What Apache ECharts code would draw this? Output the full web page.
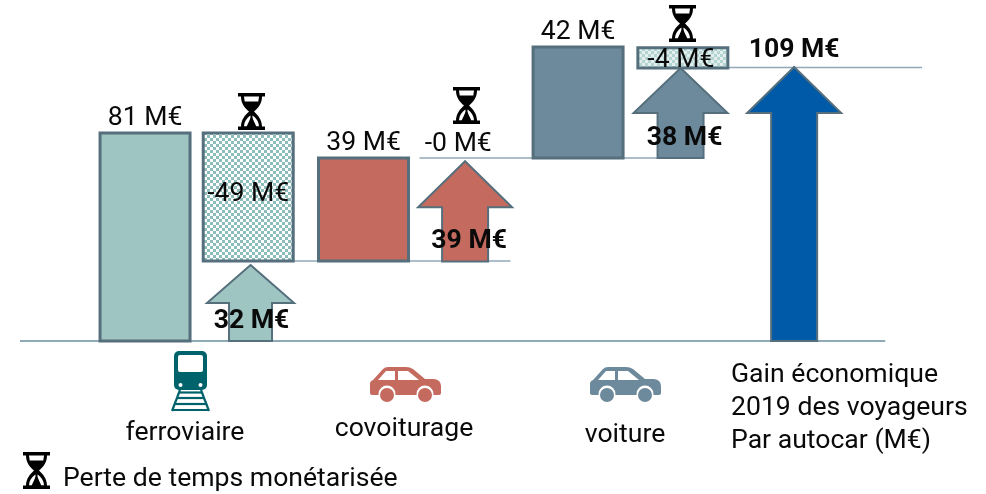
<!DOCTYPE html>
<html lang="fr">

<head>
  <meta charset="utf-8" />
  <title>Gain économique 2019</title>
  <style>
    html, body { margin: 0; background: #fff; }
    #main { width: 986px; height: 494px; }
  </style>
</head>

<body>
  <div id="main"></div>
  <script src="https://cdn.jsdelivr.net/npm/echarts@6/dist/echarts.min.js"></script>
  <script>
    // values, M€
    let barCols = [0, 2, 4];
    let barBase = [0, 31.2, 71.3];
    let barTop = [81, 71.3, 114.5];
    let barLabels = ["81 M€", "39 M€", "42 M€"];

    let lossCols = [1, 3, 5];
    let lossFrom = [81, 71.3, 114.2];
    let lossTo = [31.2, 71.3, 106.3];
    let lossLabels = ["-49 M€", "-0 M€", "-4 M€"];

    let arrowCols = [1, 3, 5, 6];
    let arrowBase = [0, 31, 71.3, 0];
    let arrowTip = [29.6, 70, 106.3, 106.7];
    let arrowLabels = ["32 M€", "39 M€", "38 M€", "109 M€"];

    // level, from column, to column
    let connectorLevel = [0, 31.2, 71.3, 106.5];
    let connectorFrom = [-1.14, 1.38, 2.55, 5.4];
    let connectorTo = [6.85, 3.39, 4.77, 7.19];

    let modeNames = ["ferroviaire", "covoiturage", "voiture"];
    let gainLines = ["Gain économique", "2019 des voyageurs", "Par autocar (M€)"];
    let legendText = "Perte de temps monétarisée";

    // layout and colours
    const font = "Roboto";
    const fontSize = 26.6;
    const textColor = "#0a0a0a";
    const edge = "#566f7c";
    const colNudge = [1.6, -3.5, 3.5, -3, 1.5, -2, 1];
    const arrowNudge = [-1.2, -3.2, -4.3, 1];
    const arrowLabelShift = [1, 4, 4, 0];
    const barColors = ["#9fc5c3", "#c56a5f", "#6d8a9c"];
    const arrowColors = ["#9fc5c3", "#c56a5f", "#6d8a9c", "#005aa7"];
    const lossLabelShift = [[0, -3], [-7, 2], [-2, 2]];
    const trainColor = "#00626a";

    function checker(on, off, size) {
      let c = document.createElement("canvas");
      c.width = size * 2;
      c.height = size * 2;
      let g = c.getContext("2d");
      g.fillStyle = off;
      g.fillRect(0, 0, size * 2, size * 2);
      g.fillStyle = on;
      g.fillRect(0, 0, size, size);
      g.fillRect(size, size, size, size);
      return { image: c, repeat: "repeat" };
    }
    const hatch = checker("#8dbdbb", "#fff", 3);
    const hatchPale = checker("#b4d4d2", "#e3efee", 3);

    function labelEl(text, x, y, bold) {
      return {
        type: "text",
        z2: 20,
        style: {
          text: text,
          x: x,
          y: y,
          align: "center",
          verticalAlign: "middle",
          fill: textColor,
          font: (bold ? "bold " : "") + fontSize + "px " + font,
        },
      };
    }

    function renderConnector(params, api) {
      let a = api.coord([api.value(1), api.value(0)]);
      let b = api.coord([api.value(2), api.value(0)]);
      return {
        type: "line",
        shape: { x1: a[0], y1: a[1], x2: b[0], y2: b[1] },
        style: { stroke: "#8fa9b7", lineWidth: params.dataIndex === 0 ? 2 : 1.5 },
      };
    }

    function renderBar(params, api) {
      let i = params.dataIndex;
      let base = api.coord([api.value(0), api.value(1)]);
      let top = api.coord([api.value(0), api.value(2)]);
      let cx = base[0] + colNudge[api.value(0)];
      return {
        type: "group",
        children: [
          {
            type: "rect",
            shape: { x: cx - 45, y: top[1], width: 90, height: base[1] - top[1] },
            style: { fill: barColors[i], stroke: edge, lineWidth: 3 },
          },
          labelEl(barLabels[i], cx, top[1] - 15),
        ],
      };
    }

    function renderLoss(params, api) {
      let i = params.dataIndex;
      let from = api.coord([api.value(0), api.value(1)]);
      let to = api.coord([api.value(0), api.value(2)]);
      let cx = from[0] + colNudge[api.value(0)];
      let h = to[1] - from[1];
      let shift = lossLabelShift[i];
      let children = [];
      if (h > 0) {
        children.push({
          type: "rect",
          shape: { x: cx - 45, y: from[1], width: 90, height: h },
          style: { fill: h > 40 ? hatch : hatchPale, stroke: edge, lineWidth: 3 },
        });
      }
      let ly = h > 0 ? from[1] + h / 2 : from[1] - 16;
      children.push(labelEl(lossLabels[i], cx + shift[0], ly + shift[1]));
      return { type: "group", children: children };
    }

    function renderArrow(params, api) {
      let i = params.dataIndex;
      let base = api.coord([api.value(0), api.value(1)]);
      let tip = api.coord([api.value(0), api.value(2)]);
      let cx = base[0] + arrowNudge[i];
      let h = base[1] - tip[1];
      let headH = Math.min(46, h / 2);
      let headW = headH < 40 ? 43.5 : 47;
      let shaftW = headH < 40 ? 21.5 : 23;
      let ly = i === 3 ? tip[1] - 17 : base[1] - 20;
      return {
        type: "group",
        children: [
          {
            type: "polygon",
            shape: {
              points: [
                [cx, tip[1]],
                [cx + headW, tip[1] + headH],
                [cx + shaftW, tip[1] + headH],
                [cx + shaftW, base[1]],
                [cx - shaftW, base[1]],
                [cx - shaftW, tip[1] + headH],
                [cx - headW, tip[1] + headH],
              ],
            },
            style: { fill: arrowColors[i], stroke: edge, lineWidth: 2, lineJoin: "miter" },
          },
          labelEl(arrowLabels[i], cx + arrowLabelShift[i], ly, true),
        ],
      };
    }

    function hourglass(x, y) {
      return {
        type: "group",
        x: x,
        y: y,
        children: [
          {
            type: "path",
            shape: {
              pathData: "M0 0H27V3.5H24C24 11 20 15 16 18.5C20 22 24 27 24 33.5H27V37H0V33.5H3C3 27 7 22 11 18.5C7 15 3 11 3 3.5H0Z",
              x: 0, y: 0, width: 27, height: 37, layout: "cover",
            },
            style: { fill: "#000" },
          },
          {
            type: "polygon",
            shape: { points: [[6, 3.5], [21, 3.5], [20.3, 8.5], [6.7, 8.5]] },
            style: { fill: "#fff" },
          },
          {
            type: "path",
            shape: {
              pathData: "M12.3 22.5C8.5 25 6.2 29 6 33.2H8.8C10.2 30 12 27 12.6 24Z",
              x: 6, y: 22.5, width: 6.6, height: 10.7, layout: "cover",
            },
            style: { fill: "#fff" },
          },
          {
            type: "path",
            shape: {
              pathData: "M14.7 22.5C18.5 25 20.8 29 21 33.2H18.2C16.8 30 15 27 14.4 24Z",
              x: 14.4, y: 22.5, width: 6.6, height: 10.7, layout: "cover",
            },
            style: { fill: "#fff" },
          },
        ],
      };
    }

    function car(x, y, color) {
      let wheel = (cx) => [
        { type: "circle", shape: { cx: cx, cy: 27, r: 8.5 }, style: { fill: "#fff" } },
        { type: "circle", shape: { cx: cx, cy: 28, r: 7 }, style: { fill: color } },
      ];
      return {
        type: "group",
        x: x,
        y: y,
        children: [
          {
            type: "path",
            shape: {
              pathData: "M3 13L13 2Q15 0 18 0H36Q40 0 43 2L55 12H64Q71 13 71 19V26Q71 28 69 28H2Q0 28 0 26V17Q0 14 3 13Z",
              x: 0, y: 0, width: 71, height: 28, layout: "cover",
            },
            style: { fill: color },
          },
          {
            type: "polygon",
            shape: { points: [[8, 13], [16, 4], [25, 4], [25, 13]] },
            style: { fill: "#fff" },
          },
          {
            type: "polygon",
            shape: { points: [[28, 4], [38, 4], [49, 13], [28, 13]] },
            style: { fill: "#fff" },
          },
        ].concat(wheel(17), wheel(55)),
      };
    }

    function train(x, y) {
      let rail = (p) => ({
        type: "line",
        shape: { x1: p[0], y1: p[1], x2: p[2], y2: p[3] },
        style: { stroke: trainColor, lineWidth: 2.2 },
      });
      return {
        type: "group",
        x: x,
        y: y,
        children: [
          {
            type: "rect",
            shape: { x: 3, y: 0, width: 33, height: 39, r: 5 },
            style: { fill: trainColor },
          },
          {
            type: "rect",
            shape: { x: 7, y: 4, width: 25, height: 17, r: 2 },
            style: { fill: "#fff" },
          },
          { type: "circle", shape: { cx: 9.5, cy: 34, r: 2 }, style: { fill: "#fff" } },
          { type: "circle", shape: { cx: 29.5, cy: 34, r: 2 }, style: { fill: "#fff" } },
          rail([9, 39, 1, 60]),
          rail([30, 39, 38, 60]),
          rail([8, 41.5, 31, 41.5]),
          rail([6, 47, 33, 47]),
          rail([4, 53, 35, 53]),
          rail([2, 59, 37, 59]),
        ],
      };
    }

    function plainText(text, x, y, align) {
      return {
        type: "text",
        style: {
          text: text,
          x: x,
          y: y,
          align: align,
          verticalAlign: "middle",
          fill: textColor,
          font: fontSize + "px " + font,
        },
      };
    }

    // icons and free text, not tied to the axes
    function renderDecor() {
      return {
        type: "group",
        children: [
          hourglass(238, 93),
          hourglass(453, 87),
          hourglass(669, 5),
          hourglass(23, 452),
          train(171, 351),
          car(370, 367, "#c56a5f"),
          car(590, 367, "#6d8a9c"),
          plainText(modeNames[0], 185, 433, "center"),
          plainText(modeNames[1], 404, 429, "center"),
          plainText(modeNames[2], 625, 435, "center"),
          plainText(gainLines[0], 731, 375, "left"),
          plainText(gainLines[1], 731, 408, "left"),
          plainText(gainLines[2], 731, 441, "left"),
          plainText(legendText, 63, 479, "left"),
        ],
      };
    }

    option = {
      animation: false,
      grid: { left: 20, right: 64, top: 1, height: 340 },
      xAxis: { type: "value", min: -1.14, max: 7.19, show: false },
      yAxis: { type: "value", min: 0, max: 132.4, show: false },
      series: [
        {
          type: "custom",
          renderItem: renderConnector,
          silent: true,
          z: 1,
          clip: false,
          data: connectorLevel.map((v, i) => [v, connectorFrom[i], connectorTo[i]]),
          encode: { x: [1, 2], y: 0 },
        },
        {
          type: "custom",
          renderItem: renderBar,
          silent: true,
          z: 2,
          data: barCols.map((c, i) => [c, barBase[i], barTop[i]]),
          encode: { x: 0, y: [1, 2] },
        },
        {
          type: "custom",
          renderItem: renderArrow,
          silent: true,
          z: 2,
          data: arrowCols.map((c, i) => [c, arrowBase[i], arrowTip[i]]),
          encode: { x: 0, y: [1, 2] },
        },
        {
          type: "custom",
          renderItem: renderLoss,
          silent: true,
          z: 3,
          data: lossCols.map((c, i) => [c, lossFrom[i], lossTo[i]]),
          encode: { x: 0, y: [1, 2] },
        },
        {
          type: "custom",
          coordinateSystem: "none",
          renderItem: renderDecor,
          silent: true,
          z: 4,
          data: [0],
        },
      ],
    };

    let chart = echarts.init(document.getElementById("main"));
    chart.setOption(option);
  </script>
</body>

</html>
